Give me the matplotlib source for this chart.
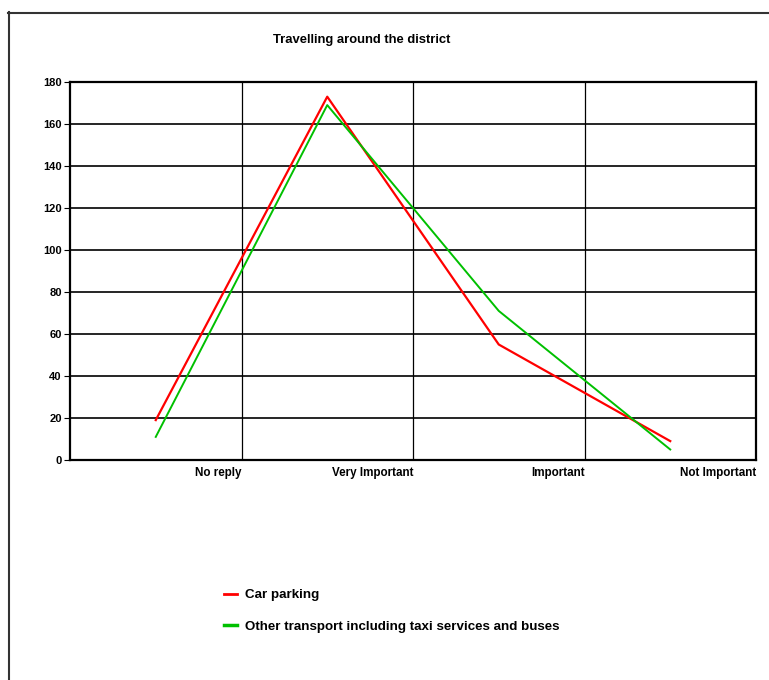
import numpy as np
import matplotlib.pyplot as plt
from matplotlib.lines import Line2D

plt.rcParams['font.family'] = ['Liberation Sans', 'DejaVu Sans']
plt.rcParams['font.weight'] = 'bold'

categories = ['No reply', 'Very Important', 'Important', 'Not Important']
car_parking = [19, 173, 55, 9]
other_transport = [11, 169, 71, 5]
series_names = ['Car parking', 'Other transport including taxi services and buses']

fig = plt.figure(figsize=(7.69, 6.80), dpi=100)
ax = fig.add_axes([70/769, 1-460/680, (756-70)/769, (460-82)/680])

# points sit in the middle of each category slot
x = np.arange(len(categories)) + 0.5
ax.plot(x, car_parking, color='#ff0000', lw=1.6, label=series_names[0], zorder=3)
ax.plot(x, other_transport, color='#00c000', lw=1.4, label=series_names[1], zorder=3)

ax.set_xlim(0, len(categories))
ax.set_ylim(0, 180)
ax.set_yticks(np.arange(0, 181, 20))
ax.set_xticks(np.arange(1, len(categories) + 1))
ax.set_xticklabels(categories, ha='right')

for yv in np.arange(20, 181, 20):
    ax.axhline(yv, color='black', lw=1.2, zorder=1)
for xv in np.arange(1, len(categories)):
    ax.axvline(xv, color='black', lw=0.9, zorder=1)

for s in ax.spines.values():
    s.set_linewidth(1.6)
ax.tick_params(axis='y', length=4, width=0.8, labelsize=8, pad=2)
ax.tick_params(axis='x', length=0, labelsize=8.4, pad=5)
for t in ax.get_xticklabels() + ax.get_yticklabels():
    t.set_fontweight('bold')

fig.text(362/769, 1-40/680, 'Travelling around the district', ha='center', va='center',
         fontsize=9.4, fontweight='bold')

handles = [Line2D([], [], color='#ff0000', lw=2), Line2D([], [], color='#00c000', lw=2.5)]
leg = fig.legend(handles, series_names, loc='upper left', bbox_to_anchor=(212/769, 1-577/680),
                 frameon=False, handlelength=1.0, handletextpad=0.6, labelspacing=1.45,
                 prop={'size': 9.6, 'weight': 'bold'})

# outer frame, clipped at right and bottom edges
fig.add_artist(Line2D([8/769, 1], [1-12.5/680, 1-12.5/680], color='#333333', lw=1.5))
fig.add_artist(Line2D([8.5/769, 8.5/769], [0, 1-12/680], color='#333333', lw=1.5))

fig.savefig('out.png', dpi=100)
